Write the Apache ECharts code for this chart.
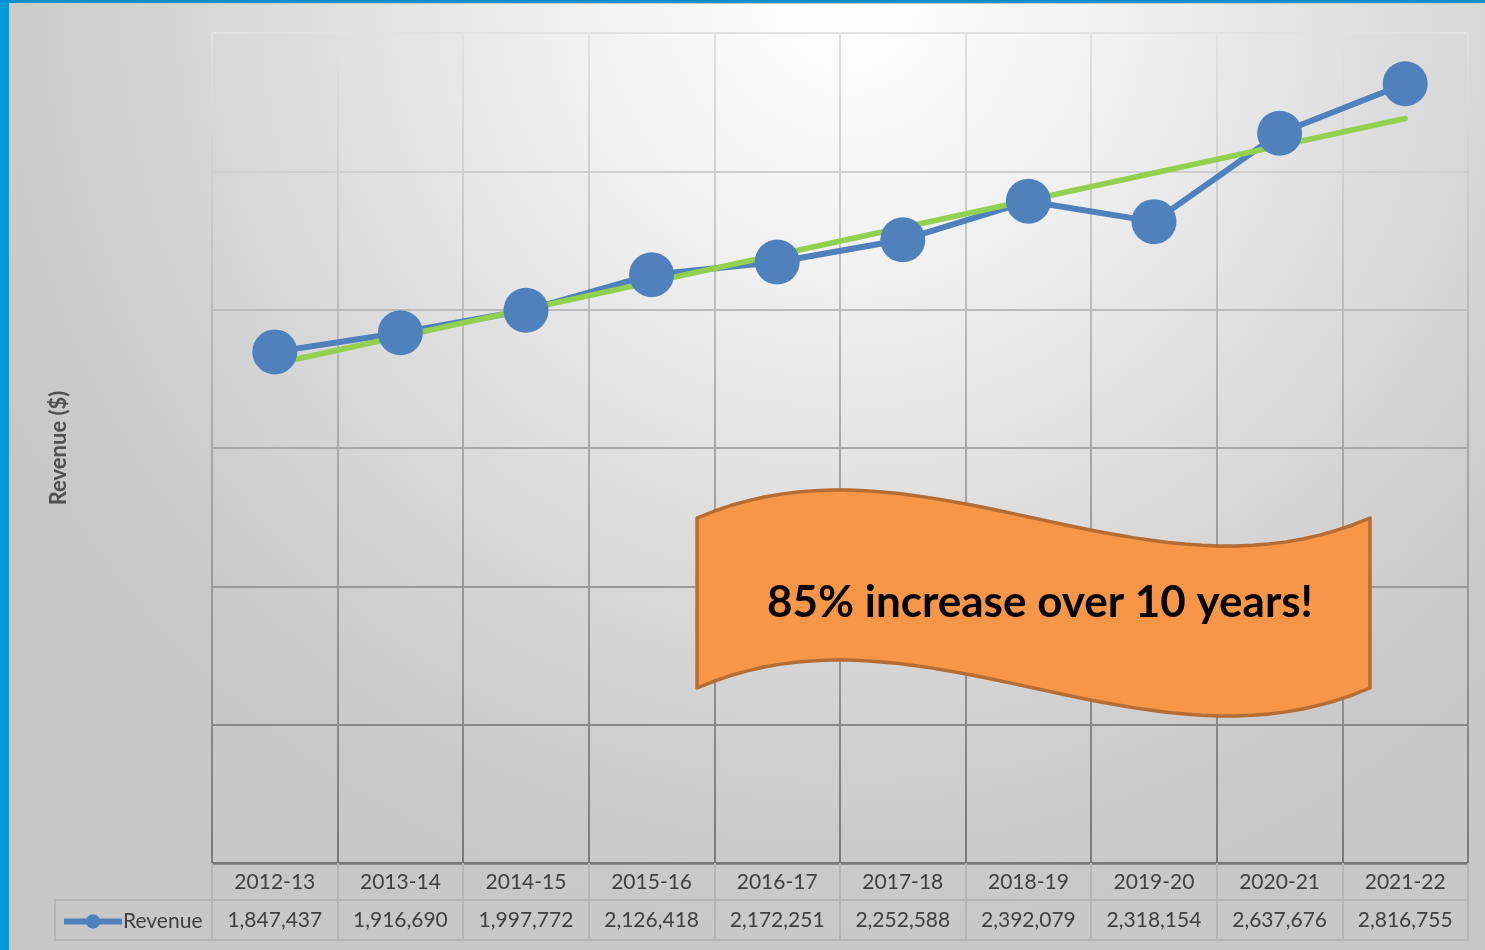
<!DOCTYPE html>
<html>
<head>
<meta charset="utf-8">
<title>Revenue</title>
<script src="https://cdn.jsdelivr.net/npm/echarts@6/dist/echarts.min.js"></script>
<style>
  html, body { margin: 0; padding: 0; }
  #chart { width: 1485px; height: 950px; }
</style>
</head>
<body>
<div id="chart"></div>
<script>
// fiscal years
const years = ["2012-13", "2013-14", "2014-15", "2015-16", "2016-17", "2017-18", "2018-19", "2019-20", "2020-21", "2021-22"];
// revenue ($)
const revenue = [1847437, 1916690, 1997772, 2126418, 2172251, 2252588, 2392079, 2318154, 2637676, 2816755];
// linear trendline, first and last year
const trendEnds = [1804600, 2691000];
const yTicks = { min: 0, max: 3000000, interval: 500000 };

const trend = years.map((_, i) => (i === 0 ? trendEnds[0] : i === years.length - 1 ? trendEnds[1] : null));

const textColor = "#404040";
const tableLine = "#b5b5b5";
const gridGrad = {
  type: "linear", x: 0, y: 33, x2: 0, y2: 863, global: true,
  colorStops: [
    { offset: 0, color: "#e2e2e2" },
    { offset: 0.5, color: "#a8a8a8" },
    { offset: 1, color: "#7a7a7a" },
  ],
};

// wavy banner outline, sampled from two cubic curves
function cubic(p0, p1, p2, p3, t) {
  const u = 1 - t;
  return [
    u * u * u * p0[0] + 3 * u * u * t * p1[0] + 3 * u * t * t * p2[0] + t * t * t * p3[0],
    u * u * u * p0[1] + 3 * u * u * t * p1[1] + 3 * u * t * t * p2[1] + t * t * t * p3[1],
  ];
}
const bannerPts = [];
for (let i = 0; i <= 40; i++) bannerPts.push(cubic([697, 518], [921, 421], [1146, 615], [1370, 518], i / 40));
for (let i = 0; i <= 40; i++) bannerPts.push(cubic([1370, 688], [1146, 785], [921, 591], [697, 688], i / 40));

const chart = echarts.init(document.getElementById("chart"));

chart.setOption({
  animation: false,
  backgroundColor: {
    type: "radial", x: 0.57, y: 0, r: 1.0,
    colorStops: [
      { offset: 0, color: "#ffffff" },
      { offset: 0.3, color: "#f0f0f0" },
      { offset: 0.5, color: "#e2e2e2" },
      { offset: 0.72, color: "#d4d4d4" },
      { offset: 0.88, color: "#cbcbcb" },
      { offset: 1, color: "#c8c8c8" },
    ],
  },
  textStyle: { fontFamily: "Lato" },
  grid: { left: 212, right: 17, top: 33, bottom: 87, containLabel: false },
  legend: {
    data: ["Revenue"],
    left: 56,
    top: 906,
    itemWidth: 58,
    itemHeight: 18,
    itemGap: 0,
    lineStyle: { width: 6 },
    textStyle: { fontSize: 21, color: textColor, padding: [0, 0, 0, -4] },
  },
  xAxis: [
    {
      type: "category",
      data: years,
      boundaryGap: true,
      axisLine: { show: true, lineStyle: { color: "#7a7a7a", width: 2.5 } },
      axisTick: { show: true, alignWithLabel: false, length: 77, lineStyle: { color: tableLine, width: 2 } },
      axisLabel: { fontSize: 21, color: textColor, margin: 9, interval: 0 },
      splitLine: { show: true, lineStyle: { color: gridGrad, width: 2 } },
    },
    {
      type: "category",
      data: years,
      position: "bottom",
      offset: 37,
      axisLine: { show: true, lineStyle: { color: tableLine, width: 2 } },
      axisTick: { show: false },
      axisLabel: {
        fontSize: 21,
        color: textColor,
        margin: 10,
        interval: 0,
        formatter: (v, i) => revenue[i].toLocaleString("en-US"),
      },
      splitLine: { show: false },
    },
    {
      type: "category",
      data: years,
      position: "bottom",
      offset: 77,
      axisLine: { show: true, lineStyle: { color: tableLine, width: 2 } },
      axisTick: { show: false },
      axisLabel: { show: false },
      splitLine: { show: false },
    },
  ],
  yAxis: {
    type: "value",
    min: yTicks.min,
    max: yTicks.max,
    interval: yTicks.interval,
    name: "Revenue ($)",
    nameLocation: "middle",
    nameRotate: 90,
    nameGap: 142,
    nameTextStyle: { fontSize: 22, fontWeight: 700, fontFamily: "Lato", color: "#505050" },
    axisLine: { show: false },
    axisTick: { show: false },
    axisLabel: { show: false },
    splitLine: { show: true, lineStyle: { color: gridGrad, width: 2 } },
  },
  series: [
    {
      name: "Revenue",
      type: "line",
      data: revenue,
      symbol: "circle",
      symbolSize: 45,
      color: "#4f81bd",
      lineStyle: { color: "#4f81bd", width: 6 },
      itemStyle: { color: "#4f81bd" },
    },
    {
      name: "Trend",
      type: "line",
      z: 3,
      data: trend,
      connectNulls: true,
      showSymbol: false,
      symbol: "none",
      lineStyle: { color: "#92d050", width: 5.5, cap: "round" },
      color: "#92d050",
    },
  ],
  graphic: [
    { type: "rect", shape: { x: 0, y: 0, width: 9, height: 950 }, style: { fill: "#009bd6" }, z: 100 },
    { type: "rect", shape: { x: 0, y: 0, width: 1485, height: 3 }, style: { fill: "#0a8fd0" }, z: 100 },
    { type: "rect", shape: { x: 9.5, y: 3.5, width: 1480, height: 950 }, style: { fill: null, stroke: "#c4c4c4", lineWidth: 1 }, z: 99 },
    { type: "rect", shape: { x: 55, y: 900, width: 157, height: 40 }, style: { fill: null, stroke: tableLine, lineWidth: 2 }, z: 5 },
    {
      type: "polygon",
      shape: { points: bannerPts },
      style: { fill: "#f79646", stroke: "#b66d34", lineWidth: 3.5, lineJoin: "round" },
      z: 50,
    },
    {
      type: "text",
      x: 1040,
      y: 603,
      style: {
        text: "85% increase over 10 years!",
        fill: "#000000",
        font: "bold 44px Lato",
        align: "center",
        verticalAlign: "middle",
      },
      z: 51,
    },
  ],
});
</script>
</body>
</html>
